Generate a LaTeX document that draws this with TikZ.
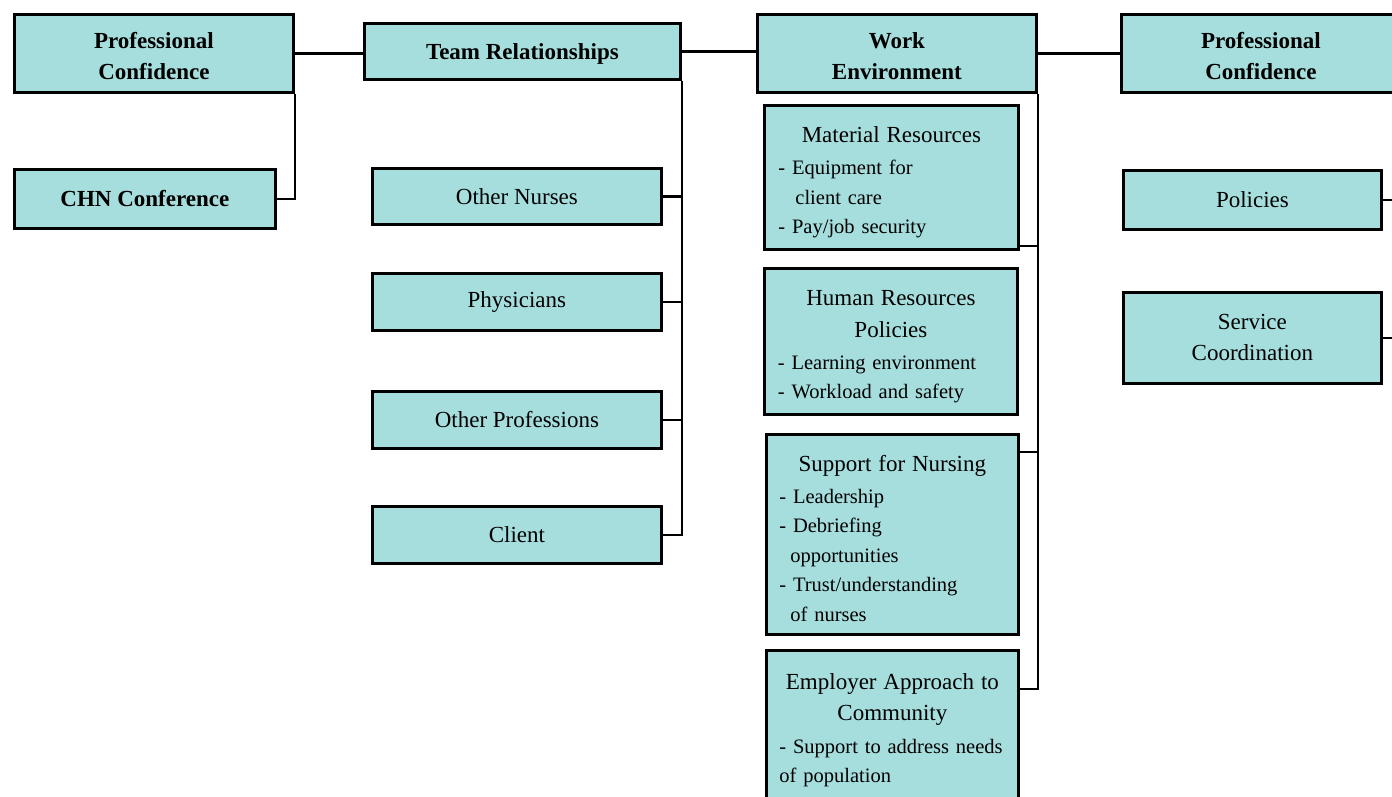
\documentclass[tikz,border=0pt]{standalone}
\usepackage{fontspec}
\setmainfont{Liberation Serif}
\definecolor{boxfill}{RGB}{166,222,221}
\newcommand{\topstrut}[1]{\rule{0pt}{#1}}
\begin{document}
\begin{tikzpicture}[x=1pt,y=-1pt,
 box/.style={draw=black, line width=2.8pt, fill=boxfill, rectangle, inner sep=0pt, anchor=north west, align=center, font=\fontsize{23}{31}\selectfont},
 bbox/.style={box, font=\bfseries\fontsize{23}{31}\selectfont},
 listbox/.style={box, align=left, inner xsep=13pt, text width=226pt, font=\fontsize{20.5}{29.5}\selectfont},
 conn/.style={draw=black, line width=2.3pt}]
\useasboundingbox (0,0) rectangle (1392,797);
\clip (0,0) rectangle (1392,797);
\fill[white] (0,0) rectangle (1392,797);
% column 1
\node[bbox, minimum width=279pt, minimum height=78pt] (pcl) at (13,13) {\topstrut{21pt}Professional\\Confidence};
\node[bbox, minimum width=261pt, minimum height=59pt] (chn) at (13,168) {CHN Conference};
% column 2
\node[bbox, minimum width=316pt, minimum height=56pt] (tr) at (363,22) {\topstrut{21pt}Team Relationships};
\node[box, minimum width=289pt, minimum height=56pt] (nur) at (371,167) {Other Nurses};
\node[box, minimum width=289pt, minimum height=57pt] (phy) at (371,272) {Physicians};
\node[box, minimum width=289pt, minimum height=57pt] (opr) at (371,390) {Other Professions};
\node[box, minimum width=289pt, minimum height=57pt] (cli) at (371,505) {Client};
% column 3
\node[bbox, minimum width=279pt, minimum height=78pt] (we) at (756,13) {\topstrut{21pt}Work\\Environment};
\node[listbox, minimum width=254pt, minimum height=144pt] (mat) at (763,104)
 {{\fontsize{23}{31}\selectfont\centering\topstrut{26pt}Material Resources\par}\vspace{3pt}
  \raggedright - Equipment for\\\hspace*{17pt}client care\\- Pay/job security};
\node[listbox, minimum width=253pt, minimum height=146pt] (hum) at (763,267)
 {{\fontsize{23}{32}\selectfont\centering\topstrut{26pt}Human Resources\\Policies\par}\vspace{2pt}
  \raggedright - Learning environment\\- Workload and safety};
\node[listbox, minimum width=252pt, minimum height=200pt] (sup) at (765,433)
 {{\fontsize{23}{31}\selectfont\centering\topstrut{24pt}Support for Nursing\par}\vspace{2pt}
  \raggedright - Leadership\\- Debriefing\\\hspace*{11pt}opportunities\\- Trust/understanding\\\hspace*{11pt}of nurses};
\node[listbox, minimum width=252pt, minimum height=156pt] (emp) at (765,649)
 {{\fontsize{23}{31}\selectfont\centering\topstrut{20pt}Employer Approach to\\Community\par}\vspace{3pt}
  \raggedright - Support to address needs\\of population};
% column 4
\node[bbox, minimum width=279pt, minimum height=78pt] (pcr) at (1120,13) {\topstrut{21pt}Professional\\Confidence};
\node[box, minimum width=258pt, minimum height=59pt] (pol) at (1122,169) {Policies};
\node[box, minimum width=258pt, minimum height=91pt] (svc) at (1122,291) {Service\\Coordination};
% connectors
\draw[conn] (pcl.east) -- (pcl.east -| tr.west);
\draw[conn] (pcl.south east) |- (chn.east);
\draw[conn] (tr.east) -- (tr.east -| we.west);
\draw[conn] (tr.south east) |- (cli.east);
\foreach \n in {nur,phy,opr} \draw[conn] (\n.east) -- (\n.east -| tr.east);
\draw[conn] (we.east) -- (we.east -| pcr.west);
\coordinate (matj) at ([yshift=5pt]mat.south east);
\coordinate (supj) at ([yshift=-19pt]sup.north east);
\coordinate (empj) at ([yshift=-40pt]emp.north east);
\draw[conn] (we.south east) |- (empj);
\draw[conn] (matj) -- (matj -| we.east);
\draw[conn] (supj) -- (supj -| we.east);
\coordinate (polend) at ([xshift=40pt]pol.east);
\coordinate (svcend) at ([xshift=40pt]svc.east);
\draw[conn] (pol.east) -- (polend);
\draw[conn] (svc.east) -- (svcend);
\end{tikzpicture}
\end{document}
